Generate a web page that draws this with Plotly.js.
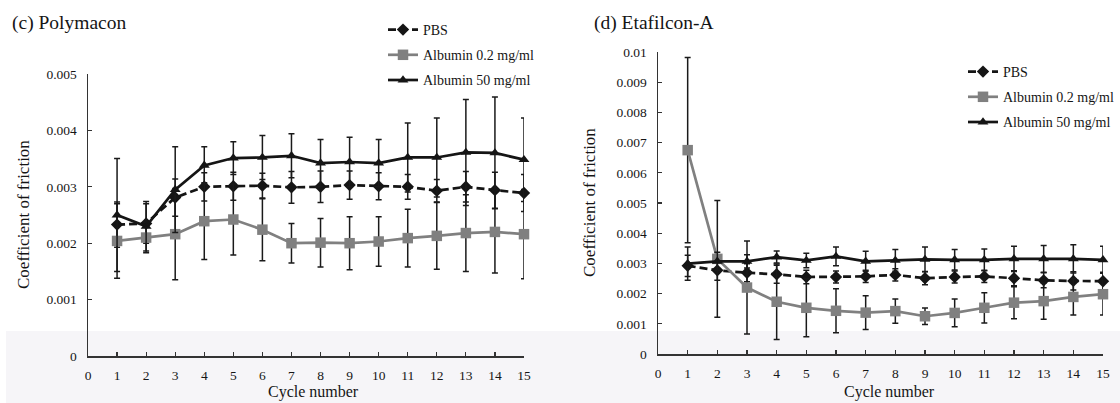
<!DOCTYPE html>
<html><head><meta charset="utf-8">
<script src="https://cdn.plot.ly/plotly-3.0.1.min.js"></script>
<style>html,body{margin:0;padding:0;background:#fff}#chart{width:1120px;height:403px}</style>
</head><body><div id="chart"></div>
<script>
// ---- data ----
const cycles = [1,2,3,4,5,6,7,8,9,10,11,12,13,14,15];
const seriesNames = ['PBS', 'Albumin 0.2 mg/ml', 'Albumin 50 mg/ml'];

// (c) Polymacon
const polyPBS      = [0.00233,0.00235,0.00281,0.00300,0.00301,0.00302,0.00299,0.00300,0.00303,0.00301,0.00300,0.00293,0.00300,0.00294,0.00289];
const polyPBSErr   = [0.00040,0.00035,0.00033,0.00025,0.00025,0.00022,0.00028,0.00028,0.00025,0.00024,0.00022,0.00020,0.00027,0.00032,0.00033];
const polyAlb02    = [0.00204,0.00210,0.00216,0.00239,0.00242,0.00224,0.00200,0.00201,0.00200,0.00203,0.00209,0.00213,0.00218,0.00220,0.00216];
const polyAlb02Err = [0.00066,0.00027,0.00081,0.00068,0.00063,0.00055,0.00035,0.00043,0.00047,0.00044,0.00051,0.00059,0.00068,0.00073,0.00079];
const polyAlb50    = [0.00250,0.00230,0.00295,0.00338,0.00351,0.00352,0.00355,0.00342,0.00344,0.00342,0.00352,0.00352,0.00361,0.00360,0.00348];
const polyAlb50Err = [0.00100,0.00044,0.00076,0.00033,0.00029,0.00039,0.00039,0.00042,0.00044,0.00042,0.00061,0.00070,0.00094,0.00099,0.00074];

// (d) Etafilcon-A
const etaPBS      = [0.00292,0.00277,0.00269,0.00264,0.00255,0.00255,0.00257,0.00262,0.00251,0.00255,0.00257,0.00251,0.00244,0.00242,0.00241];
const etaPBSErr   = [0.00035,0.00033,0.00030,0.00030,0.00022,0.00020,0.00020,0.00020,0.00022,0.00020,0.00020,0.00025,0.00025,0.00030,0.00030];
const etaAlb02    = [0.00675,0.00315,0.00220,0.00173,0.00153,0.00143,0.00137,0.00142,0.00125,0.00136,0.00153,0.00170,0.00175,0.00189,0.00198];
const etaAlb02Err = [0.00307,0.00193,0.00154,0.00125,0.00096,0.00073,0.00056,0.00040,0.00027,0.00046,0.00050,0.00053,0.00060,0.00060,0.00069];
const etaAlb50    = [0.00299,0.00307,0.00307,0.00321,0.00310,0.00323,0.00307,0.00310,0.00313,0.00312,0.00312,0.00315,0.00315,0.00315,0.00312];
const etaAlb50Err = [0.00055,0.00030,0.00022,0.00020,0.00024,0.00031,0.00033,0.00036,0.00041,0.00034,0.00036,0.00042,0.00044,0.00047,0.00045];

// ticks
const xTickVals = [0,1,2,3,4,5,6,7,8,9,10,11,12,13,14,15];
const xTickText = ['0','1','2','3','4','5','6','7','8','9','10','11','12','13','14','15'];
const polyYTickVals = [0,0.001,0.002,0.003,0.004,0.005];
const polyYTickText = ['0','0.001','0.002','0.003','0.004','0.005'];
const etaYTickVals = [0,0.001,0.002,0.003,0.004,0.005,0.006,0.007,0.008,0.009,0.01];
const etaYTickText = ['0','0.001','0.002','0.003','0.004','0.005','0.006','0.007','0.008','0.009','0.01'];

// ---- styling ----
const W = 1120, H = 403;
const px = v => v / W;
const py = v => 1 - v / H;
const FONT = 'Liberation Serif, Times New Roman, serif';
const INK = '#151515';
const GRAY = '#808080';

function err(arr) {
  return {type: 'data', array: arr, visible: true, color: '#1a1a1a', thickness: 1.5, width: 3};
}
function mk(x, y, e, idx, xa, ya, leg, grp) {
  const styles = [
    {line: {color: INK, width: 2.7, dash: '8px,4px'}, marker: {symbol: 'diamond', size: 9.5, color: INK}},
    {line: {color: GRAY, width: 2.7}, marker: {symbol: 'square', size: 10.5, color: GRAY}},
    {line: {color: INK, width: 2.7}, marker: {symbol: 'triangle-up', size: 9.5, color: INK}}
  ];
  return Object.assign({
    type: 'scatter', mode: 'lines+markers', x: x, y: y, name: seriesNames[idx],
    error_y: err(e), xaxis: xa, yaxis: ya, legend: leg, legendgroup: grp + idx,
    cliponaxis: false, hoverinfo: 'x+y'
  }, styles[idx]);
}

const data = [
  mk(cycles, polyPBS, polyPBSErr, 0, 'x', 'y', 'legend', 'p'),
  mk(cycles, polyAlb02, polyAlb02Err, 1, 'x', 'y', 'legend', 'p'),
  mk(cycles, polyAlb50, polyAlb50Err, 2, 'x', 'y', 'legend', 'p'),
  mk(cycles, etaPBS, etaPBSErr, 0, 'x2', 'y2', 'legend2', 'e'),
  mk(cycles, etaAlb02, etaAlb02Err, 1, 'x2', 'y2', 'legend2', 'e'),
  mk(cycles, etaAlb50, etaAlb50Err, 2, 'x2', 'y2', 'legend2', 'e')
];

function axisBase() {
  return {
    showline: true, linecolor: '#333', linewidth: 1.5,
    ticks: 'inside', ticklen: 4, tickwidth: 1.2, tickcolor: '#333',
    showgrid: false, zeroline: false, fixedrange: true,
    tickfont: {family: FONT, size: 13.5, color: INK}
  };
}
const xa1 = Object.assign(axisBase(), {domain: [px(88), px(524)], range: [0, 15], tickvals: xTickVals, ticktext: xTickText, anchor: 'y', ticklabelstandoff: 6});
const ya1 = Object.assign(axisBase(), {domain: [py(356), py(74)], range: [0, 0.005], tickvals: polyYTickVals, ticktext: polyYTickText, anchor: 'x', ticklabelstandoff: 7});
const xa2 = Object.assign(axisBase(), {domain: [px(658), px(1103)], range: [0, 15], tickvals: xTickVals, ticktext: xTickText, anchor: 'y2', ticklabelstandoff: 6});
const ya2 = Object.assign(axisBase(), {domain: [py(354), py(52)], range: [0, 0.01], tickvals: etaYTickVals, ticktext: etaYTickText, anchor: 'x2', ticklabelstandoff: 7});

function ann(text, x, y, size, opts) {
  return Object.assign({text: text, xref: 'paper', yref: 'paper', x: px(x), y: py(y), showarrow: false,
    font: {family: FONT, size: size, color: INK}}, opts || {});
}

const layout = {
  width: W, height: H, margin: {l: 0, r: 0, t: 0, b: 0},
  paper_bgcolor: '#ffffff', plot_bgcolor: 'rgba(0,0,0,0)',
  showlegend: true,
  xaxis: xa1, yaxis: ya1, xaxis2: xa2, yaxis2: ya2,
  legend: {x: px(383), y: py(14), xanchor: 'left', yanchor: 'top', bgcolor: 'rgba(0,0,0,0)',
    font: {family: FONT, size: 14, color: INK}, tracegroupgap: 4, itemclick: false, itemdoubleclick: false},
  legend2: {x: px(963), y: py(56), xanchor: 'left', yanchor: 'top', bgcolor: 'rgba(0,0,0,0)',
    font: {family: FONT, size: 14, color: INK}, tracegroupgap: 4, itemclick: false, itemdoubleclick: false},
  shapes: [
    {type: 'rect', xref: 'paper', yref: 'paper', x0: px(6), x1: 1, y0: 0, y1: py(331),
      fillcolor: '#f6f5f8', line: {width: 0}, layer: 'below'}
  ],
  annotations: [
    ann('(c) Polymacon', 10, 23, 19.5, {xanchor: 'left', yanchor: 'middle'}),
    ann('(d) Etafilcon-A', 592, 23, 19.5, {xanchor: 'left', yanchor: 'middle'}),
    ann('Cycle number', 313, 392, 16, {xanchor: 'center', yanchor: 'middle'}),
    ann('Cycle number', 889, 392, 16, {xanchor: 'center', yanchor: 'middle'}),
    ann('Coefficient of friction', 23, 215, 17, {xanchor: 'center', yanchor: 'middle', textangle: -90}),
    ann('Coefficient of friction', 589, 203, 17, {xanchor: 'center', yanchor: 'middle', textangle: -90})
  ]
};

Plotly.newPlot('chart', data, layout, {displayModeBar: false, staticPlot: true});
</script>
</body></html>
